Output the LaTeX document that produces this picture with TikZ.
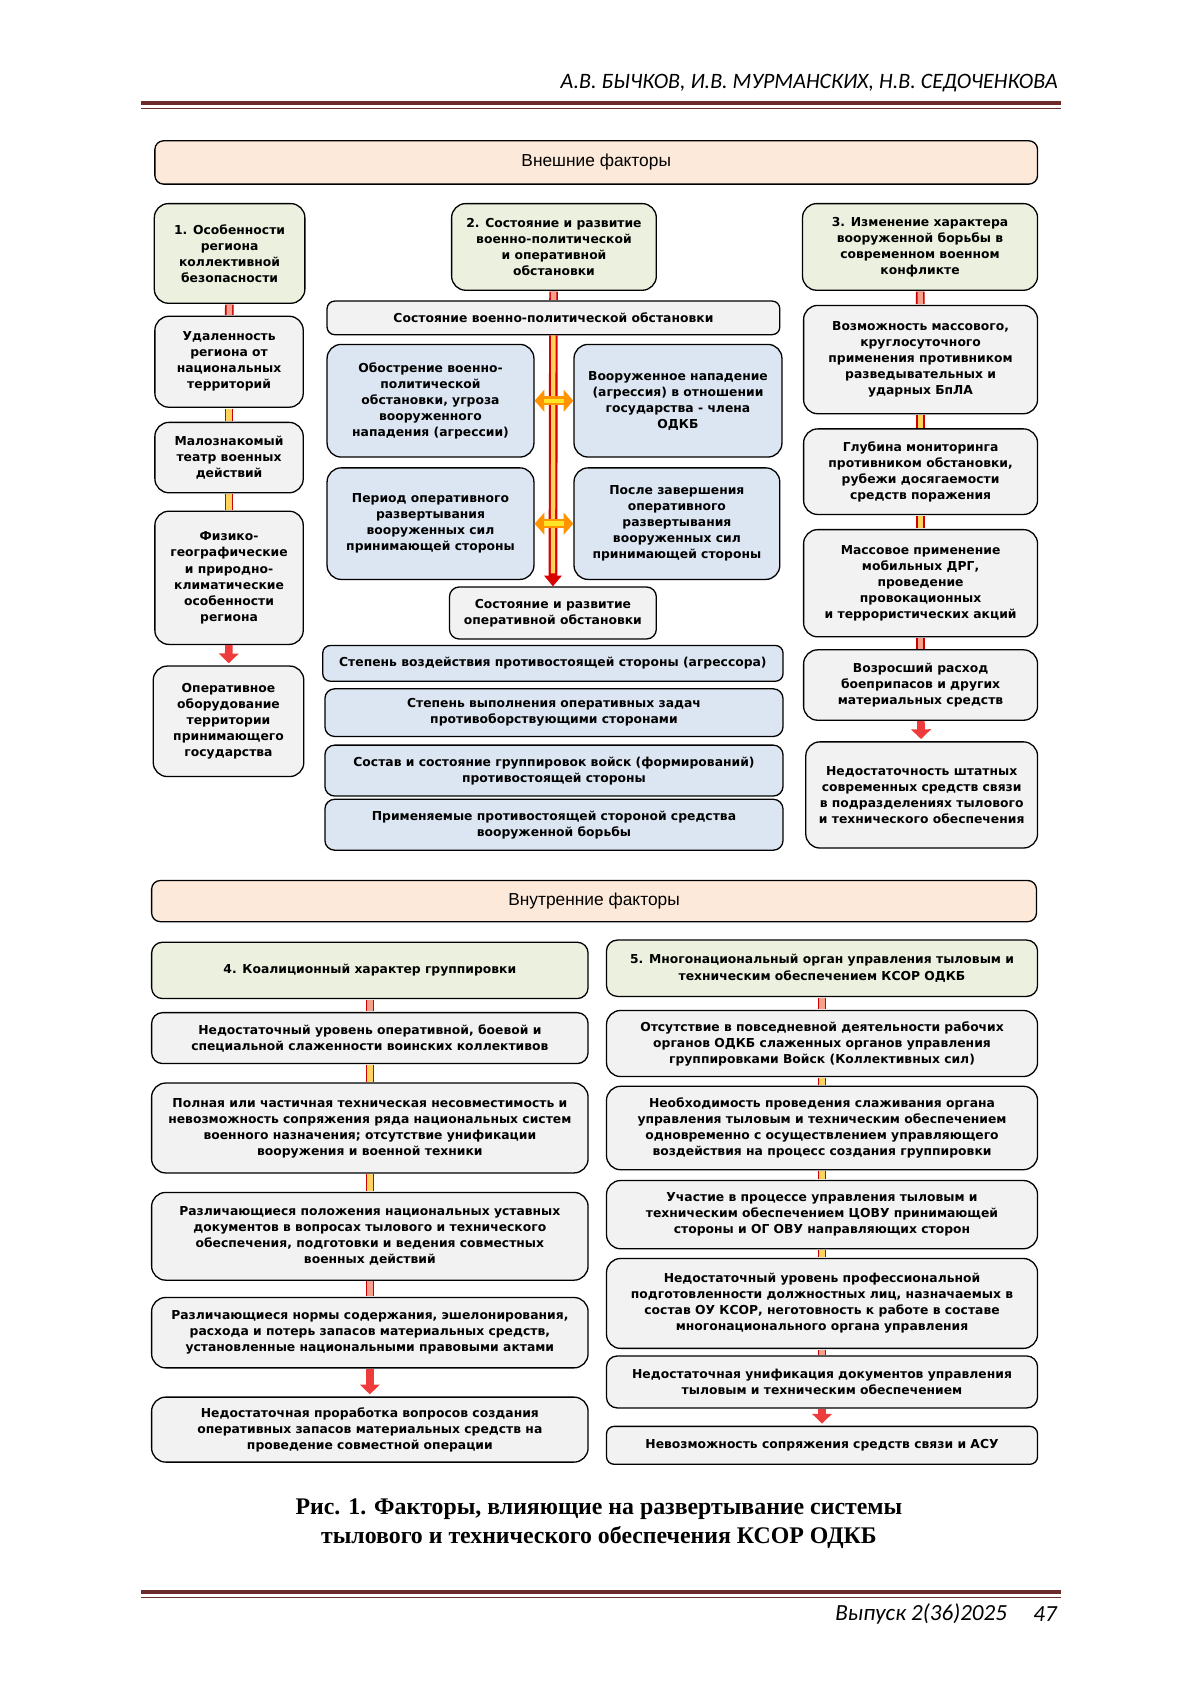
\documentclass[tikz,border=0pt]{standalone}
\usepackage{fontspec}
\setmainfont{DejaVu Sans}
\newfontfamily\boxfont{DejaVu Sans}
\newfontfamily\titlefont{Liberation Sans}
\newfontfamily\capfont{Liberation Serif}
\newfontfamily\runfont{Carlito}
\usetikzlibrary{arrows.meta}

\definecolor{peachfill}{HTML}{FDE9D9}
\definecolor{grnfill}{HTML}{EBF1DE}
\definecolor{gryfill}{HTML}{F2F2F2}
\definecolor{blufill}{HTML}{DCE6F2}
\definecolor{maroon}{HTML}{6E2B2B}
\definecolor{salmon}{HTML}{F7A08C}
\definecolor{amber}{HTML}{FFD45C}
\definecolor{pushred}{HTML}{EE3B3B}

\tikzset{
  fac/.style={draw, line width=1.2pt, rounded corners=13pt, inner sep=2pt,
    align=center, font=\boxfont\bfseries\fontsize{11.4}{14.8}\selectfont},
  grn/.style={fac, fill=grnfill},
  gry/.style={fac, fill=gryfill},
  blu/.style={fac, fill=blufill},
  pch/.style={fac, fill=peachfill, rounded corners=8pt,
    font=\titlefont\fontsize{16}{18}\selectfont},
  link/.style={line width=8pt, draw=red!80!black, shorten <=0.6pt, shorten >=0.6pt,
    postaction={draw=#1, line width=5pt}},
  link/.default=amber,
  push/.style={draw=pushred, line width=7pt, shorten >=2pt,
    -{Triangle[width=18pt,length=9pt]}},
  bigpush/.style={draw=red!85!black, line width=8pt,
    -{Triangle[width=16pt,length=10pt]},
    postaction={draw=amber, line width=4pt, arrows=-, shorten >=12pt}},
  twoway/.style={draw=orange!85!yellow, line width=8pt,
    {Triangle[width=20pt,length=9pt]}-{Triangle[width=20pt,length=9pt]},
    postaction={draw=yellow!60!amber, line width=4pt, arrows=-,
      shorten <=9pt, shorten >=9pt}},
  rule/.style={draw=maroon, line width=4pt}
}

\begin{document}
\begin{tikzpicture}[x=1pt, y=-1pt]
  \useasboundingbox (0,0) rectangle (1108,1566.9);

  % running head
  \node[anchor=east, inner sep=0, font=\runfont\itshape\fontsize{20.3}{22}\selectfont]
    (head) at (977,77) {А.В. БЫЧКОВ, И.В. МУРМАНСКИХ, Н.В. СЕДОЧЕНКОВА};
  \draw[rule] (130,95) -- (980,95);
  \draw[maroon, line width=1pt] (130,100) -- (980,100);

  % external factors
  \node[pch, minimum width=815, minimum height=40] (outer) at (550.5,150) {Внешние факторы};

  \node[grn, minimum width=139, minimum height=92] (f1) at (212,234)
    {1. Особенности\\региона\\коллективной\\безопасности};
  \node[gry, minimum width=137, minimum height=84] (f1a) at (211.5,334)
    {Удаленность\\региона от\\национальных\\территорий};
  \node[gry, minimum width=137, minimum height=65] (f1b) at (211.5,422.5)
    {Малознакомый\\театр военных\\действий};
  \node[gry, minimum width=137, minimum height=123] (f1c) at (211.5,533.5)
    {Физико-\\географические\\и природно-\\климатические\\особенности\\региона};
  \node[gry, minimum width=139, minimum height=102] (f1d) at (211,666)
    {Оперативное\\оборудование\\территории\\принимающего\\государства};

  \node[grn, minimum width=189, minimum height=80] (f2) at (511.5,228)
    {2. Состояние и развитие\\военно-политической\\и оперативной\\обстановки};
  \node[gry, minimum width=418, minimum height=31, rounded corners=7pt] (f2a) at (511,293.5)
    {Состояние военно-политической обстановки};
  \node[blu, minimum width=191, minimum height=104] (f2b) at (397.5,370)
    {Обострение военно-\\политической\\обстановки, угроза\\вооруженного\\нападения (агрессии)};
  \node[blu, minimum width=192, minimum height=104] (f2c) at (626,370)
    {Вооруженное нападение\\(агрессия) в отношении\\государства - члена\\ОДКБ};
  \node[blu, minimum width=191, minimum height=103] (f2d) at (397.5,483.5)
    {Период оперативного\\развертывания\\вооруженных сил\\принимающей стороны};
  \node[blu, minimum width=190, minimum height=103] (f2e) at (625,483.5)
    {После завершения\\оперативного\\развертывания\\вооруженных сил\\принимающей стороны};
  \node[gry, minimum width=191, minimum height=48, rounded corners=9pt] (f2f) at (510.5,566)
    {Состояние и развитие\\оперативной обстановки};
  \node[blu, minimum width=425, minimum height=33, rounded corners=7pt] (f2g) at (510.5,612.5)
    {Степень воздействия противостоящей стороны (агрессора)};
  \node[blu, minimum width=423, minimum height=44, rounded corners=9pt] (f2h) at (511.5,658)
    {Степень выполнения оперативных задач\\противоборствующими сторонами};
  \node[blu, minimum width=423, minimum height=47, rounded corners=9pt] (f2i) at (511.5,711.5)
    {Состав и состояние группировок войск (формирований)\\противостоящей стороны};
  \node[blu, minimum width=423, minimum height=47, rounded corners=9pt] (f2j) at (511.5,761.5)
    {Применяемые противостоящей стороной средства\\вооруженной борьбы};

  \node[grn, minimum width=217, minimum height=80] (f3) at (849.5,228)
    {3. Изменение характера\\вооруженной борьбы в\\современном военном\\конфликте};
  \node[gry, minimum width=216, minimum height=100] (f3a) at (850,332)
    {Возможность массового,\\круглосуточного\\применения противником\\разведывательных и\\ударных БпЛА};
  \node[gry, minimum width=216, minimum height=79] (f3b) at (850,435.5)
    {Глубина мониторинга\\противником обстановки,\\рубежи досягаемости\\средств поражения};
  \node[gry, minimum width=216, minimum height=99] (f3c) at (850,538.5)
    {Массовое применение\\мобильных ДРГ,\\проведение\\провокационных\\и террористических акций};
  \node[gry, minimum width=216, minimum height=65] (f3d) at (850,632.5)
    {Возросший расход\\боеприпасов и других\\материальных средств};
  \node[gry, minimum width=214, minimum height=98] (f3e) at (851,734)
    {Недостаточность штатных\\современных средств связи\\в подразделениях тылового\\и технического обеспечения};

  % internal factors
  \node[pch, minimum width=817, minimum height=38] (inner) at (548.5,832) {Внутренние факторы};

  \node[grn, minimum width=403, minimum height=52, rounded corners=10pt] (f4) at (341.5,896)
    {4. Коалиционный характер группировки};
  \node[gry, minimum width=403, minimum height=47, rounded corners=10pt] (f4a) at (341.5,958.5)
    {Недостаточный уровень оперативной, боевой и\\специальной слаженности воинских коллективов};
  \node[gry, minimum width=403, minimum height=83] (f4b) at (341.5,1041.5)
    {Полная или частичная техническая несовместимость и\\невозможность сопряжения ряда национальных систем\\военного назначения; отсутствие унификации\\вооружения и военной техники};
  \node[gry, minimum width=403, minimum height=81] (f4c) at (341.5,1141.5)
    {Различающиеся положения национальных уставных\\документов в вопросах тылового и технического\\обеспечения, подготовки и ведения совместных\\военных действий};
  \node[gry, minimum width=403, minimum height=65] (f4d) at (341.5,1230.5)
    {Различающиеся нормы содержания, эшелонирования,\\расхода и потерь запасов материальных средств,\\установленные национальными правовыми актами};
  \node[gry, minimum width=403, minimum height=60] (f4e) at (341.5,1320)
    {Недостаточная проработка вопросов создания\\оперативных запасов материальных средств на\\проведение совместной операции};

  \node[grn, minimum width=398, minimum height=52, rounded corners=10pt] (f5) at (759,894)
    {5. Многонациональный орган управления тыловым и\\техническим обеспечением КСОР ОДКБ};
  \node[gry, minimum width=398, minimum height=61] (f5a) at (759,963.5)
    {Отсутствие в повседневной деятельности рабочих\\органов ОДКБ слаженных органов управления\\группировками Войск (Коллективных сил)};
  \node[gry, minimum width=398, minimum height=77] (f5b) at (759,1041.5)
    {Необходимость проведения слаживания органа\\управления тыловым и техническим обеспечением\\одновременно с осуществлением управляющего\\воздействия на процесс создания группировки};
  \node[gry, minimum width=398, minimum height=63] (f5c) at (759,1121.5)
    {Участие в процессе управления тыловым и\\техническим обеспечением ЦОВУ принимающей\\стороны и ОГ ОВУ направляющих сторон};
  \node[gry, minimum width=398, minimum height=83] (f5d) at (759,1203.5)
    {Недостаточный уровень профессиональной\\подготовленности должностных лиц, назначаемых в\\состав ОУ КСОР, неготовность к работе в составе\\многонационального органа управления};
  \node[gry, minimum width=398, minimum height=48, rounded corners=10pt] (f5e) at (759,1276)
    {Недостаточная унификация документов управления\\тыловым и техническим обеспечением};
  \node[gry, minimum width=398, minimum height=35, rounded corners=7pt] (f5f) at (759,1334.5)
    {Невозможность сопряжения средств связи и АСУ};

  % connectors
  \draw[link=salmon] (f1) -- (f1a);
  \draw[link] (f1a) -- (f1b);
  \draw[link] (f1b) -- (f1c);
  \draw[push] (f1c) -- (f1d);

  \draw[link=salmon] (f2) -- (f2a);
  \draw[bigpush] (f2a) -- (f2f);
  \draw[twoway] (f2b) -- (f2c);
  \draw[twoway] (f2d) -- (f2e);

  \draw[link=salmon] (f3) -- (f3a);
  \draw[link] (f3a) -- (f3b);
  \draw[link] (f3b) -- (f3c);
  \draw[link=salmon] (f3c) -- (f3d);
  \draw[push] (f3d) -- (f3e);

  \draw[link=salmon] (f4) -- (f4a);
  \draw[link] (f4a) -- (f4b);
  \draw[link] (f4b) -- (f4c);
  \draw[link=salmon] (f4c) -- (f4d);
  \draw[push] (f4d) -- (f4e);

  \draw[link=salmon] (f5) -- (f5a);
  \draw[link] (f5a) -- (f5b);
  \draw[link] (f5b) -- (f5c);
  \draw[link] (f5c) -- (f5d);
  \draw[link=salmon] (f5d) -- (f5e);
  \draw[push] (f5e) -- (f5f);

  % caption and running foot
  \node[align=center, font=\capfont\bfseries\fontsize{22}{27}\selectfont] (caption) at (553,1406.5)
    {Рис. 1. Факторы, влияющие на развертывание системы\\тылового и технического обеспечения КСОР ОДКБ};
  \draw[rule] (130,1470) -- (980,1470);
  \draw[maroon, line width=1pt] (130,1475) -- (980,1475);
  \node[anchor=east, inner sep=0, font=\runfont\itshape\fontsize{21.3}{22}\selectfont]
    (issue) at (930,1490) {Выпуск 2(36)2025};
  \node[anchor=east, inner sep=0, font=\runfont\itshape\fontsize{21.3}{22}\selectfont]
    (page) at (976,1490) {47};
\end{tikzpicture}
\end{document}
